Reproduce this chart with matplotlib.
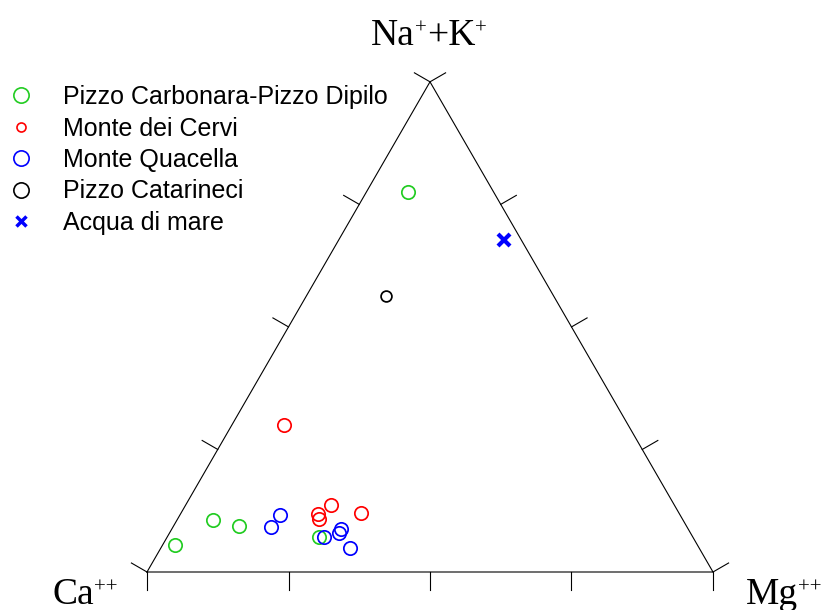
import numpy as np
import matplotlib
matplotlib.use("Agg")
import matplotlib.pyplot as plt
from matplotlib.lines import Line2D
from matplotlib.transforms import IdentityTransform

# composizione (frazioni) Ca, Mg, Na+K per ciascun gruppo
gruppi = ["Pizzo Carbonara-Pizzo Dipilo", "Monte dei Cervi", "Monte Quacella",
          "Pizzo Catarineci", "Acqua di mare"]

carbonara_ca = [0.151, 0.923, 0.830, 0.790, 0.661]
carbonara_mg = [0.074, 0.022, 0.064, 0.116, 0.268]
carbonara_nak = [0.775, 0.055, 0.106, 0.094, 0.071]

cervi_ca = [0.608, 0.639, 0.642, 0.606, 0.562]
cervi_mg = [0.092, 0.243, 0.250, 0.257, 0.318]
cervi_nak = [0.300, 0.118, 0.108, 0.137, 0.120]

quacella_ca = [0.735, 0.707, 0.652, 0.613, 0.621, 0.617]
quacella_mg = [0.173, 0.177, 0.277, 0.299, 0.299, 0.334]
quacella_nak = [0.092, 0.116, 0.071, 0.088, 0.080, 0.049]

catarineci_ca = [0.296]
catarineci_mg = [0.141]
catarineci_nak = [0.563]

mare_ca = [0.031]
mare_mg = [0.292]
mare_nak = [0.677]

tick_frac = [0.0, 0.25, 0.5, 0.75, 1.0]

VERDE = "#22cc22"
H = np.sqrt(3) / 2
SERIF = "Liberation Serif"
W_PX, H_PX = 829, 610


def tern(ca, mg, nak):
    ca, mg, nak = np.asarray(ca), np.asarray(mg), np.asarray(nak)
    tot = ca + mg + nak
    return (mg + 0.5 * nak) / tot, H * nak / tot


def etichetta(fig, x0, y0, pezzi, centro=False):
    """Testo con apici piccoli; x0, y0 in pixel dall'angolo in alto a sinistra."""
    r = fig.canvas.get_renderer()
    testi, larghezze = [], []
    for testo, apice in pezzi:
        t = fig.text(0, 0, testo, fontsize=15 if apice else 27, family=SERIF,
                     va="baseline", ha="left", transform=IdentityTransform())
        testi.append((t, apice))
        larghezze.append(t.get_window_extent(r).width)
    x = x0 - sum(larghezze) / 2 if centro else x0
    for (t, apice), w in zip(testi, larghezze):
        t.set_position((x, H_PX - y0 + (11 if apice else 0)))
        x += w


fig = plt.figure(figsize=(8.29, 6.10), dpi=100)
ax = fig.add_axes([0, 0, 1, 1])
# scala: lato del triangolo = 566 px, vertice Ca a (147, 572) px
S = 566.0
ax.set_xlim(-147 / S, (W_PX - 147) / S)
ax.set_ylim((572 - H_PX) / S, 572 / S)
ax.axis("off")

# triangolo
A = np.array([0.0, 0.0])    # Ca
B = np.array([1.0, 0.0])    # Mg
C = np.array([0.5, H])      # Na+K
tri = np.array([A, B, C, A])
ax.plot(tri[:, 0], tri[:, 1], color="black", lw=0.8)

# tacche perpendicolari ai lati, verso l'esterno
tl = 18 / S
lati = [(A, B, np.array([0.0, -1.0])),
        (A, C, np.array([-H, 0.5])),
        (B, C, np.array([H, 0.5]))]
for p0, p1, d in lati:
    for f in tick_frac:
        p = p0 + f * (p1 - p0)
        ax.plot([p[0], p[0] + tl * d[0]], [p[1], p[1] + tl * d[1]],
                color="black", lw=0.8)

# etichette dei vertici
etichetta(fig, 429, 45, [("Na", False), ("+", True), ("+K", False), ("+", True)],
          centro=True)
etichetta(fig, 52, 604, [("Ca", False), ("++", True)])
etichetta(fig, 746, 604, [("Mg", False), ("++", True)])

circ = dict(ls="none", marker="o", mfc="none", ms=9.6, mew=1.25)
x, y = tern(carbonara_ca, carbonara_mg, carbonara_nak)
ax.plot(x, y, mec=VERDE, **circ)
x, y = tern(cervi_ca, cervi_mg, cervi_nak)
ax.plot(x, y, mec="red", **circ)
x, y = tern(quacella_ca, quacella_mg, quacella_nak)
ax.plot(x, y, mec="blue", **circ)
x, y = tern(catarineci_ca, catarineci_mg, catarineci_nak)
ax.plot(x, y, ls="none", marker="o", mfc="none", mec="black", ms=7.8, mew=1.25)
x, y = tern(mare_ca, mare_mg, mare_nak)
ax.plot(x, y, ls="none", marker="x", color="blue", ms=9, mew=3)

handles = [
    Line2D([], [], ls="none", marker="o", mfc="none", mec=VERDE, ms=11, mew=1.2),
    Line2D([], [], ls="none", marker="o", mfc="none", mec="red", ms=6.5, mew=1.2),
    Line2D([], [], ls="none", marker="o", mfc="none", mec="blue", ms=11, mew=1.2),
    Line2D([], [], ls="none", marker="o", mfc="none", mec="black", ms=11, mew=1.2),
    Line2D([], [], ls="none", marker="x", color="blue", ms=6.5, mew=2.5),
]
fig.legend(handles, gruppi, loc="upper left",
           bbox_to_anchor=(9 / W_PX, 1 - 85 / H_PX), frameon=False,
           prop={"family": "Liberation Sans", "size": 18},
           handlelength=0.95, handletextpad=1.2, borderpad=0,
           borderaxespad=0, labelspacing=0.3, numpoints=1)

fig.savefig("out.png", dpi=100)
